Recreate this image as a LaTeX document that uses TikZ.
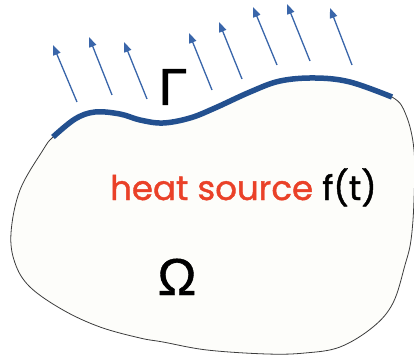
\documentclass[tikz,border=0pt]{standalone}
\usepackage{fontspec}
\setmainfont{Poppins}
\newfontfamily\srcfont[FakeBold=1.2]{Poppins}
\newfontfamily\greekfont[FakeBold=0.8]{Liberation Sans}
\usetikzlibrary{arrows.meta}
\definecolor{boundblue}{HTML}{23508F}
\definecolor{fluxblue}{HTML}{3A66AA}
\definecolor{sourcered}{HTML}{EA4128}
\definecolor{domainfill}{HTML}{FDFDFA}
\definecolor{outlinegray}{HTML}{3C3C3C}
\tikzset{
  region/.style={fill=domainfill, draw=outlinegray, line width=0.8pt},
  boundary/.style={draw=boundblue, line width=5.5pt},
  flux/.style={-{Triangle[length=10pt, width=7.5pt]}, draw=fluxblue, fill=fluxblue, line width=1.3pt},
  bigsym/.style={font=\greekfont\fontsize{52}{52}\selectfont, inner sep=0pt},
  sourcetext/.style={font=\srcfont\fontsize{34}{34}\selectfont, inner sep=0pt}
}
\begin{document}
\begin{tikzpicture}[x=1pt, y=-1pt]
  \useasboundingbox (0,0) rectangle (414,358);
  \clip (0,0) rectangle (414,358);
  % domain Omega
  \draw[region] plot[smooth cycle, tension=0.6] coordinates {
    (53,137) (75,119) (95,112) (120,114) (140,120) (163,123) (190,118) (215,108)
    (250,92) (280,81) (315,78) (350,82) (392,97) (406,115) (414,150) (414,200)
    (411,240) (405,265) (393,303) (373,327) (340,347) (305,353) (267,354) (207,350)
    (163,342) (140,338) (100,327) (63,310) (30,287) (15,263) (11,233) (20,190) (43,150)};
  % boundary Gamma
  \draw[boundary] plot[smooth, tension=0.6] coordinates {
    (53,137) (75,119) (95,112) (120,114) (140,120) (163,123) (190,118) (215,108)
    (250,92) (280,81) (315,78) (350,82) (392,97)};
  % outward flux
  \foreach \tx/\ty/\hx/\hy in {77/102/53/45, 112/95/89/37, 147/99/124/42, 212/90/189/33,
      242/79/219/22, 277/65/253/7, 310/61/287/4, 352/65/330/8}
    \draw[flux] (\tx,\ty) -- (\hx,\hy);
  \node[bigsym, anchor=base] (gamma) at (173,105) {Γ};
  \node[bigsym, anchor=base] (omega) at (177,295) {Ω};
  \node[sourcetext, anchor=base west] (source) at (110,200) {\textcolor{sourcered}{heat source} f(t)};
\end{tikzpicture}
\end{document}
